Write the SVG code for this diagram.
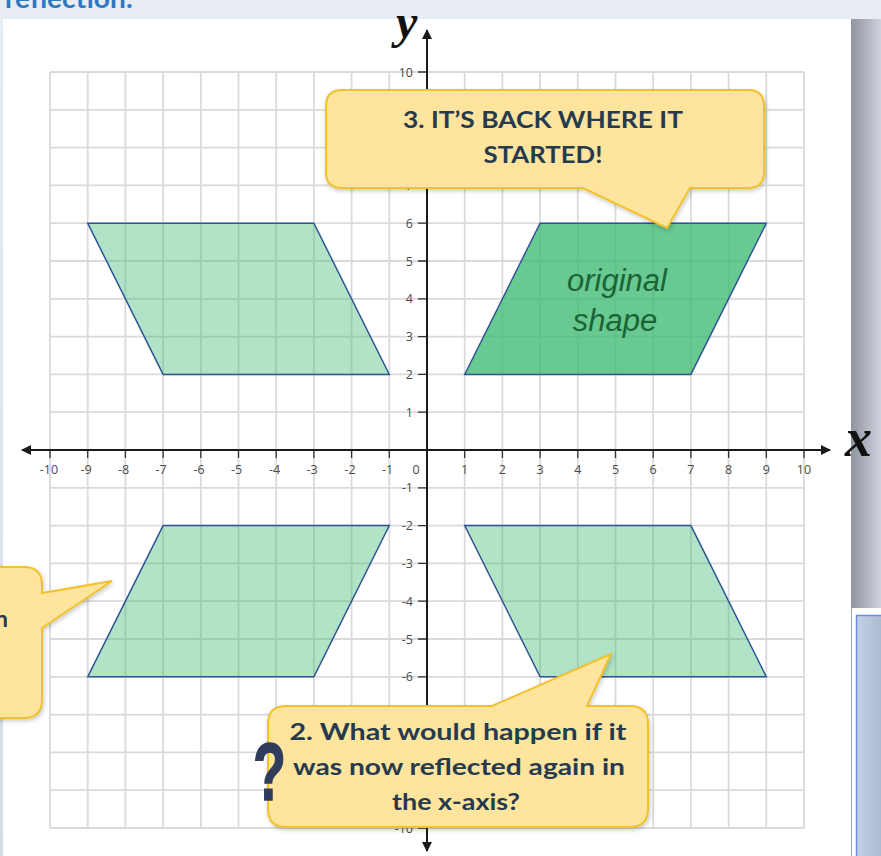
<svg xmlns="http://www.w3.org/2000/svg" width="881" height="856" viewBox="0 0 881 856">
<defs>
<style>
.grid{fill:none;stroke:#dadada;stroke-width:1.8}
.axis{fill:none;stroke:#1a1a1a;stroke-width:2}
.tick{fill:none;stroke:#333;stroke-width:1.3}
.xl{font-family:"Open Sans","DejaVu Sans",sans-serif;font-size:12.5px;fill:#4a4a4a;text-anchor:middle}
.yl{font-family:"Open Sans","DejaVu Sans",sans-serif;font-size:12.5px;fill:#4a4a4a;text-anchor:end}
.light{fill:#3dbb72;fill-opacity:0.4;stroke:#2f5597;stroke-width:1.5}
.orig{fill:#3dbb72;fill-opacity:0.78;stroke:#2f5597;stroke-width:1.5}
.callout{fill:#fee49c;stroke:#f2c12e;stroke-width:2;filter:url(#sh)}
.ct{font-family:Lato,"Liberation Sans",sans-serif;font-weight:bold;font-size:23px;fill:#263a4f;text-anchor:middle}
.axl{font-family:"Liberation Serif","DejaVu Serif",serif;font-weight:bold;font-style:italic;fill:#111}
</style>
<filter id="sh" x="-10%" y="-10%" width="130%" height="140%">
<feDropShadow dx="1" dy="2" stdDeviation="2" flood-color="#000" flood-opacity="0.22"/>
</filter>
<linearGradient id="topg" x1="0" y1="0" x2="0" y2="1">
<stop offset="0" stop-color="#e8ecf3"/><stop offset="1" stop-color="#d6dce7"/>
</linearGradient>
<linearGradient id="sideg" x1="0" y1="0" x2="1" y2="0">
<stop offset="0" stop-color="#8f949f"/><stop offset="1" stop-color="#cdd2dc"/>
</linearGradient>
<linearGradient id="boxg" x1="0" y1="0" x2="1" y2="0">
<stop offset="0" stop-color="#c3d0e6"/><stop offset="1" stop-color="#a9b6cc"/>
</linearGradient>
<marker id="ah" viewBox="0 0 10 10" refX="9" refY="5" markerWidth="5" markerHeight="5" orient="auto-start-reverse" markerUnits="strokeWidth">
<path d="M0 0L10 5L0 10Z" fill="#1a1a1a"/>
</marker>
</defs>

<g id="background">
<rect x="0" y="0" width="881" height="856" fill="url(#topg)"/>
<text x="5" y="8" font-family="Lato,'Liberation Sans',sans-serif" font-weight="bold" font-size="27" fill="#2f78c2" textLength="128" lengthAdjust="spacingAndGlyphs">reflection:</text>
<rect x="851" y="19" width="30" height="589" fill="url(#sideg)"/>
<rect x="851" y="608" width="30" height="248" fill="#ffffff"/>
<rect x="856.5" y="615.5" width="30" height="250" fill="url(#boxg)" stroke="#6b8fd6" stroke-width="1.5"/>
<rect x="3" y="19" width="848" height="837" fill="#ffffff"/>
<line x1="851.5" y1="608" x2="851.5" y2="856" stroke="#a0a5b0" stroke-width="1"/>
</g>

<g id="grid">
<path class="grid" d="M50 72V828M87.7 72V828M125.4 72V828M163.1 72V828M200.8 72V828M238.5 72V828M276.2 72V828M313.9 72V828M351.6 72V828M389.3 72V828M464.7 72V828M502.4 72V828M540.1 72V828M577.8 72V828M615.5 72V828M653.2 72V828M690.9 72V828M728.6 72V828M766.3 72V828M804 72V828
M50 72H804M50 109.8H804M50 147.6H804M50 185.4H804M50 223.2H804M50 261H804M50 298.8H804M50 336.6H804M50 374.4H804M50 412.2H804M50 487.8H804M50 525.6H804M50 563.4H804M50 601.2H804M50 639H804M50 676.8H804M50 714.6H804M50 752.4H804M50 790.2H804M50 828H804"/>
</g>

<g id="shape-upper-left"><polygon class="light" points="87.7,223.2 313.9,223.2 389.3,374.4 163.1,374.4"/></g>
<g id="shape-lower-left"><polygon class="light" points="163.1,525.6 389.3,525.6 313.9,676.8 87.7,676.8"/></g>
<g id="shape-lower-right"><polygon class="light" points="464.7,525.6 690.9,525.6 766.3,676.8 540.1,676.8"/></g>
<g id="shape-original">
<polygon class="orig" points="540.1,223.2 766.3,223.2 690.9,374.4 464.7,374.4"/>
<text x="617" y="291" font-family="'Liberation Sans',Arial,sans-serif" font-style="italic" font-size="31" fill="#1a6437" text-anchor="middle">original</text>
<text x="615" y="331" font-family="'Liberation Sans',Arial,sans-serif" font-style="italic" font-size="31" fill="#1a6437" text-anchor="middle">shape</text>
</g>

<g id="axes">
<line class="axis" x1="22" y1="450" x2="830" y2="450" marker-start="url(#ah)" marker-end="url(#ah)"/>
<line class="axis" x1="427" y1="30" x2="427" y2="851" marker-start="url(#ah)" marker-end="url(#ah)"/>
<path class="tick" d="M50 451V458M87.7 451V458M125.4 451V458M163.1 451V458M200.8 451V458M238.5 451V458M276.2 451V458M313.9 451V458M351.6 451V458M389.3 451V458M464.7 451V458M502.4 451V458M540.1 451V458M577.8 451V458M615.5 451V458M653.2 451V458M690.9 451V458M728.6 451V458M766.3 451V458M804 451V458
M418 72H426M418 109.8H426M418 147.6H426M418 185.4H426M418 223.2H426M418 261H426M418 298.8H426M418 336.6H426M418 374.4H426M418 412.2H426M418 487.8H426M418 525.6H426M418 563.4H426M418 601.2H426M418 639H426M418 676.8H426M418 714.6H426M418 752.4H426M418 790.2H426M418 828H426"/>
<g>
<text class="xl" x="49" y="474">-10</text><text class="xl" x="86" y="474">-9</text><text class="xl" x="123.5" y="474">-8</text><text class="xl" x="161" y="474">-7</text><text class="xl" x="199" y="474">-6</text><text class="xl" x="236.5" y="474">-5</text><text class="xl" x="274.5" y="474">-4</text><text class="xl" x="312" y="474">-3</text><text class="xl" x="350" y="474">-2</text><text class="xl" x="387.5" y="474">-1</text>
<text class="xl" x="416" y="474">0</text>
<text class="xl" x="464.7" y="474">1</text><text class="xl" x="502.4" y="474">2</text><text class="xl" x="540.1" y="474">3</text><text class="xl" x="577.8" y="474">4</text><text class="xl" x="615.5" y="474">5</text><text class="xl" x="653.2" y="474">6</text><text class="xl" x="690.9" y="474">7</text><text class="xl" x="728.6" y="474">8</text><text class="xl" x="766.3" y="474">9</text><text class="xl" x="804" y="474">10</text>
</g>
<g>
<text class="yl" x="413" y="76.5">10</text><text class="yl" x="413" y="189.9">7</text><text class="yl" x="413" y="227.7">6</text><text class="yl" x="413" y="265.5">5</text><text class="yl" x="413" y="303.3">4</text><text class="yl" x="413" y="341.1">3</text><text class="yl" x="413" y="378.9">2</text><text class="yl" x="413" y="416.7">1</text>
<text class="yl" x="413" y="492.3">-1</text><text class="yl" x="413" y="530.1">-2</text><text class="yl" x="413" y="567.9">-3</text><text class="yl" x="413" y="605.7">-4</text><text class="yl" x="413" y="643.5">-5</text><text class="yl" x="413" y="681.3">-6</text><text class="yl" x="413" y="832.5">-10</text>
</g>
<text class="axl" x="396" y="38" font-size="48">y</text>
<text class="axl" x="845" y="456" font-size="54">x</text>
</g>

<g id="callout-3">
<path class="callout" d="M342 90H748Q764 90 764 106V172Q764 188 748 188H690L667 228L583 188H342Q326 188 326 172V106Q326 90 342 90Z"/>
<text class="ct" x="543" y="128" textLength="280" lengthAdjust="spacingAndGlyphs">3. IT’S BACK WHERE IT</text>
<text class="ct" x="543" y="163" textLength="119" lengthAdjust="spacingAndGlyphs">STARTED!</text>
</g>

<g id="callout-2">
<path class="callout" d="M286 706H492L611 654L587 706H630Q648 706 648 724V809Q648 827 630 827H286Q268 827 268 809V724Q268 706 286 706Z"/>
<text class="ct" x="458" y="740" textLength="337" lengthAdjust="spacingAndGlyphs">2. What would happen if it</text>
<text class="ct" x="459" y="775" textLength="332" lengthAdjust="spacingAndGlyphs">was now reflected again in</text>
<text class="ct" x="456" y="810" textLength="128" lengthAdjust="spacingAndGlyphs">the x-axis?</text>
</g>

<g id="question-mark">
<text x="253" y="800" font-family="'Liberation Sans',Arial,sans-serif" font-weight="bold" font-size="82" fill="#2f3d5a" stroke="#2f3d5a" stroke-width="1.5" textLength="33" lengthAdjust="spacingAndGlyphs">?</text>
</g>

<g id="callout-1">
<path class="callout" d="M-40 567H24Q42 567 42 585V593L112 581L42 628V700Q42 718 24 718H-40Z"/>
<text class="ct" x="8" y="627" style="text-anchor:end">n</text>
</g>
</svg>
